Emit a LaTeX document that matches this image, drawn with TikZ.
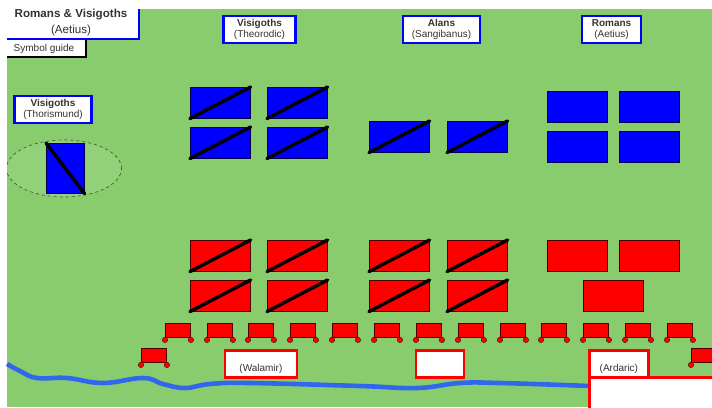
\documentclass[tikz,border=0pt]{standalone}
\usepackage{fontspec}
\setmainfont{Liberation Sans}
\usetikzlibrary{positioning}
\definecolor{grass}{HTML}{88CC6E}
\definecolor{river}{HTML}{3366EE}
\definecolor{inktext}{HTML}{333333}
\tikzset{
  bluebox/.style = {draw=black!70!blue, line width=0.6pt, fill=blue, minimum width=60pt, minimum height=31pt, inner sep=0pt, anchor=north west},
  redbox/.style = {draw=black!70!red, line width=0.6pt, fill=red, minimum width=60pt, minimum height=31pt, inner sep=0pt, anchor=north west},
  bluelabel/.style = {draw=blue, line width=2.8pt, fill=white, text=inktext, align=center, font=\fontsize{10}{11}\selectfont, inner sep=0pt, minimum height=27pt},
  redlabel/.style = {draw=red, line width=2.8pt, fill=white, text=inktext, font=\fontsize{10}{11.5}\selectfont, inner sep=0pt, minimum height=27pt},
  cartbody/.style = {draw=black!70!red, line width=0.9pt, fill=red, minimum width=25pt, minimum height=14pt, inner sep=0pt, anchor=north west},
  wheel/.style = {circle, draw=black!70!red, line width=0.4pt, fill=red, minimum size=5.4pt, inner sep=0pt},
  slash/.style = {line width=3.4pt, line cap=round}
}
\newcommand{\cart}[3]{% name, left, top
  \node[cartbody] (#1) at (#2,#3) {};
  \node[wheel] (#1l) at (#1.south west) [yshift=-2pt] {};
  \node[wheel] (#1r) at (#1.south east) [yshift=-2pt] {};
}
\begin{document}
\begin{tikzpicture}[x=1pt, y=-1pt]
  \useasboundingbox (0,0) rectangle (712,407);
  \fill[white] (0,0) rectangle (712,407);
  \fill[grass] (7,9) rectangle (712,407);

  % title corner
  \fill[white] (7,9) rectangle (139,39);
  \draw[blue, line width=2.8pt] (139,9)--(139,39)--(7,39);
  \node[text=inktext, font=\bfseries\fontsize{11.6}{13}\selectfont] (title) at (71,15) {Romans \& Visigoths};
  \node[text=inktext, font=\fontsize{11.6}{13}\selectfont] (titlesub) at (71,30) {(Aetius)};
  \fill[white] (7,40.4) rectangle (86,57);
  \draw[black, line width=2.4pt] (86,40.4)--(86,57)--(7,57);
  \node[text=inktext, font=\fontsize{10}{12}\selectfont] (guide) at (44,49) {Symbol guide};

  % blue commanders
  \node[bluelabel, minimum width=77pt] (thorismund) at (53,109.5) {\textbf{Visigoths}\\(Thorismund)};
  \node[bluelabel, minimum width=72pt] (theorodic) at (259.5,29.5) {\textbf{Visigoths}\\(Theorodic)};
  \node[bluelabel, minimum width=77pt] (sangibanus) at (441.5,29.5) {\textbf{Alans}\\(Sangibanus)};
  \node[bluelabel, minimum width=59pt] (aetius) at (611.5,29.5) {\textbf{Romans}\\(Aetius)};

  % reserve
  \begin{scope}
    \clip (7,9) rectangle (712,407);
    \draw[dashed, black!60!grass, line width=0.6pt, fill=grass!92!white] (64,168.5) ellipse (57.5pt and 28.5pt);
  \end{scope}
  \node[bluebox, minimum width=38pt, minimum height=50pt] (b0) at (46,143) {};
  \draw[slash] (b0.north west)--(b0.south east);

  % blue units
  \foreach \nm/\px/\py in {b1/190/87, b2/267/87, b3/190/127, b4/267/127, b5/369/121, b6/447/121} {
    \node[bluebox] (\nm) at (\px,\py) {};
    \draw[slash] (\nm.south west)--(\nm.north east);
  }
  \node[bluebox] (b7) at (547,91) {};
  \node[bluebox] (b8) at (618.5,91) {};
  \node[bluebox] (b9) at (547,130.5) {};
  \node[bluebox] (b10) at (618.5,130.5) {};

  % red units
  \foreach \nm/\px/\py in {r1/190/240, r2/267/240, r3/369/240, r4/447/240, r5/190/280, r6/267/280, r7/369/280, r8/447/280} {
    \node[redbox] (\nm) at (\px,\py) {};
    \draw[slash] (\nm.south west)--(\nm.north east);
  }
  \node[redbox] (r9) at (547,240) {};
  \node[redbox] (r10) at (619,240) {};
  \node[redbox] (r11) at (583,280) {};

  % red carts
  \foreach \nm/\px in {c1/165, c2/207, c3/248, c4/290, c5/332, c6/374, c7/416, c8/458, c9/500, c10/541, c11/583, c12/625, c13/667} {
    \cart{\nm}{\px}{323}
  }
  \cart{c14}{141}{348}
  \cart{c15}{691}{348}

  % river
  \draw[river, line width=4.6pt] plot[smooth, tension=0.7] coordinates {(7,364) (20,371) (37,378) (67,378) (103,383) (143,378) (163,384) (185,388) (210,384) (250,383) (360,386) (417,388) (460,383) (500,383) (590,386)};

  % red commanders
  \node[redlabel, minimum width=72pt, anchor=north west, align=center] (walamir) at (223.5,349) {\\[5pt](Walamir)};
  \node[redlabel, minimum width=48pt, anchor=north west] (blank) at (414.5,349) {};
  \node[redlabel, minimum width=59pt, anchor=north west, align=center] (ardaric) at (588,349) {\\[5pt](Ardaric)};
  \node[draw=red, line width=2.8pt, fill=white, anchor=north west, minimum width=130pt, minimum height=34pt, inner sep=0pt] (corner) at (588,376) {};
\end{tikzpicture}
\end{document}
